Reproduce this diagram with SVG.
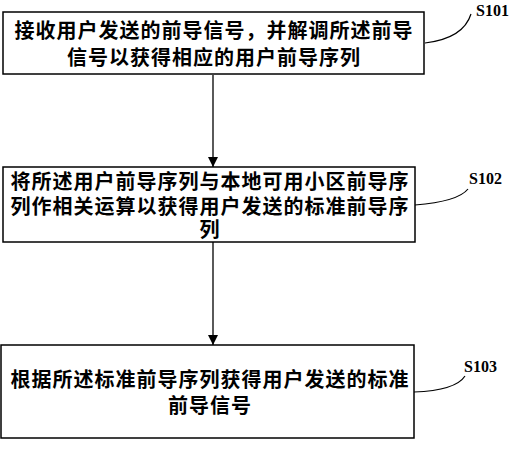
<svg xmlns="http://www.w3.org/2000/svg" width="518" height="450" viewBox="0 0 518 450">
<defs>
<marker id="arr" viewBox="0 0 10 10" refX="10" refY="5" markerWidth="10" markerHeight="12" markerUnits="userSpaceOnUse" orient="auto">
<path d="M0,0 L10,5 L0,10 z" fill="#000"/>
</marker>
</defs>
<style>
.box{fill:#fff;stroke:#000;stroke-width:1.5}
.t{font-family:"Noto Sans CJK SC","Noto Sans",sans-serif;font-size:20px;font-weight:bold;letter-spacing:1px;fill:#000;text-anchor:middle}
.lab{font-family:"Liberation Serif",serif;font-size:16px;font-weight:bold;fill:#000}
.lead{fill:none;stroke:#000;stroke-width:1.2}
.conn{stroke:#000;stroke-width:1.3;fill:none}
</style>
<rect width="518" height="450" fill="#fff"/>
<g id="connectors">
<line class="conn" x1="213" y1="75" x2="213" y2="167" marker-end="url(#arr)"/>
<line class="conn" x1="213" y1="242" x2="213" y2="345" marker-end="url(#arr)"/>
</g>
<g id="S101">
<rect class="box" x="3" y="12" width="421" height="62"/>
<text class="t"><tspan x="214" y="38">接收用户发送的前导信号，并解调所述前导</tspan><tspan x="214" y="65">信号以获得相应的用户前导序列</tspan></text>
<path class="lead" d="M425,43 C450,40 466,30 471,14"/>
<text class="lab" x="476" y="16">S101</text>
</g>
<g id="S102">
<rect class="box" x="3" y="167" width="412" height="75"/>
<text class="t"><tspan x="210" y="189">将所述用户前导序列与本地可用小区前导序</tspan><tspan x="210" y="214">列作相关运算以获得用户发送的标准前导序</tspan><tspan x="210" y="237">列</tspan></text>
<path class="lead" d="M415,205 C440,203 460,199 468,189"/>
<text class="lab" x="469" y="184">S102</text>
</g>
<g id="S103">
<rect class="box" x="1" y="345" width="413" height="93"/>
<text class="t"><tspan x="210" y="387">根据所述标准前导序列获得用户发送的标准</tspan><tspan x="210" y="413">前导信号</tspan></text>
<path class="lead" d="M414,392 C440,391 458,387 465,376"/>
<text class="lab" x="464" y="372">S103</text>
</g>
</svg>
